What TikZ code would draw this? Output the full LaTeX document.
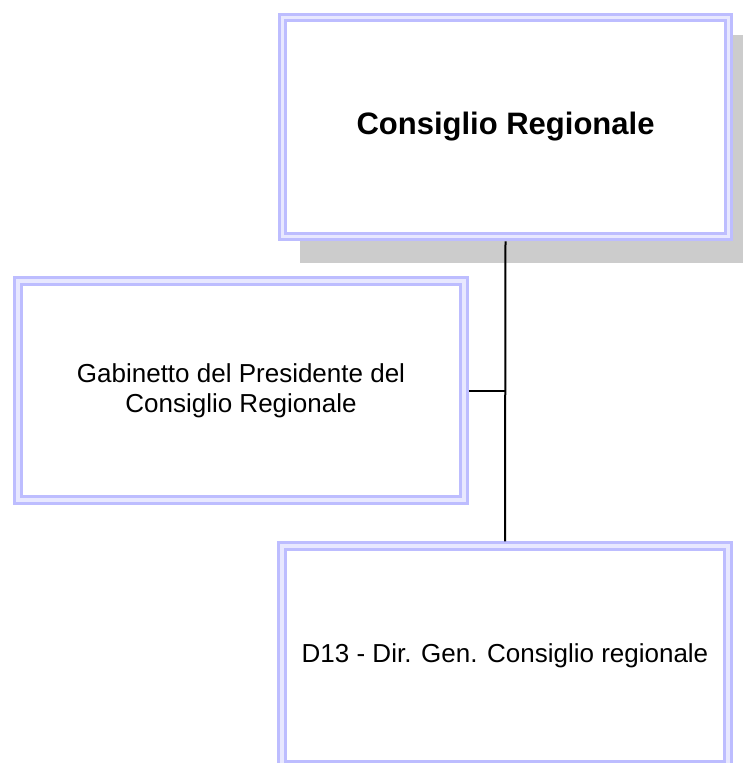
\documentclass[tikz,border=0pt]{standalone}
\usepackage{fontspec}
\setmainfont{Liberation Sans}
\usetikzlibrary{backgrounds}

\definecolor{bandblue}{RGB}{189,189,255}
\definecolor{gapblue}{RGB}{232,232,255}
\definecolor{shadowgray}{RGB}{204,204,204}

\tikzset{
  orgbox/.style={draw=bandblue, line width=3pt, double=gapblue, double distance=3.5pt,
    fill=white, minimum width=446pt, minimum height=219pt, outer sep=4.75pt,
    align=center, inner sep=0pt},
  link/.style={line width=2pt}
}

\begin{document}
\begin{tikzpicture}[x=1pt,y=-1pt]
\useasboundingbox (0,0) rectangle (742,763);
\clip (0,0) rectangle (742,763);

% boxes
\node[orgbox, font=\fontsize{31}{36}\selectfont\bfseries] (consiglio) at (505.5,127) {Consiglio Regionale};
\node[orgbox, font=\fontsize{26}{30}\selectfont] (gabinetto) at (241,390.5) {Gabinetto del Presidente del\\Consiglio Regionale};
\node[orgbox, font=\fontsize{26}{30}\selectfont] (dirgen) at (505,655.5) {D13 - Dir. Gen. Consiglio regionale};

% shadow of the top box
\begin{scope}[on background layer]
\fill[shadowgray] ([shift={(22,22)}]consiglio.north west) rectangle ([shift={(22,22)}]consiglio.south east);
\end{scope}

% connectors
\draw[link] (consiglio.south) -- (dirgen.north);
\draw[link] (gabinetto.east) -- (gabinetto.east -| consiglio.south);
\end{tikzpicture}
\end{document}
